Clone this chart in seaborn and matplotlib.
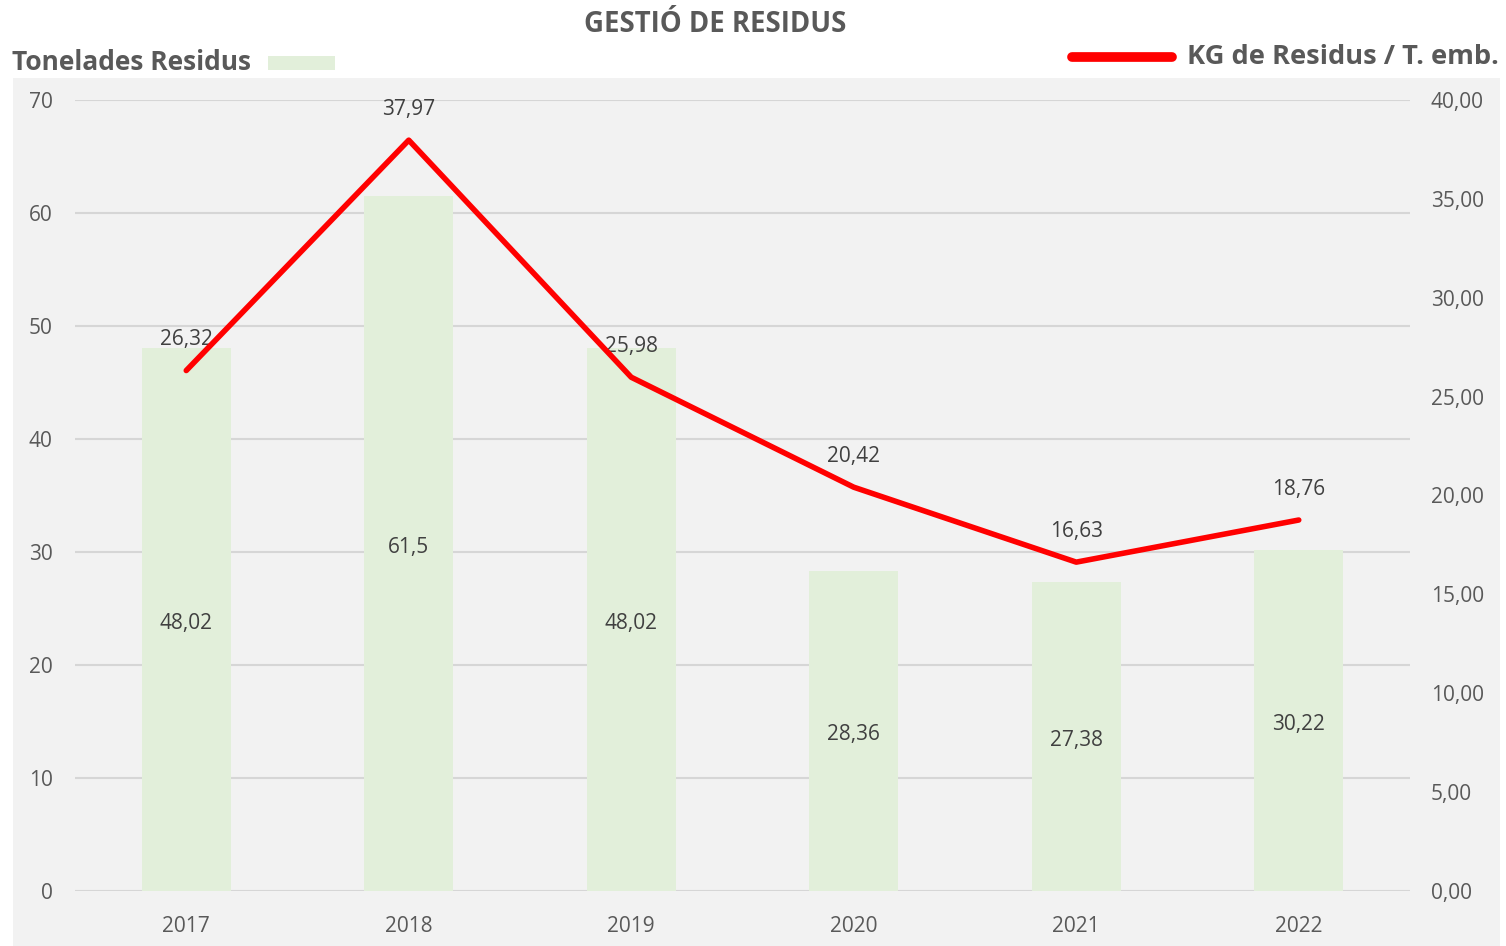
import numpy as np
import pandas as pd
import matplotlib
matplotlib.use("Agg")
import matplotlib.pyplot as plt
import seaborn as sns
from matplotlib.patches import Rectangle
from matplotlib.lines import Line2D

# data
years = ["2017", "2018", "2019", "2020", "2021", "2022"]
tonnes = [48.02, 61.5, 48.02, 28.36, 27.38, 30.22]
kg_per_t = [26.32, 37.97, 25.98, 20.42, 16.63, 18.76]
left_ticks = [0, 10, 20, 30, 40, 50, 60, 70]
right_ticks = [0, 5, 10, 15, 20, 25, 30, 35, 40]

bar_color = "#e2efda"
line_color = "#ff0000"
text_gray = "#595959"

sns.set_theme(style="white")
plt.rcParams["font.family"] = ["Open Sans", "DejaVu Sans"]

df = pd.DataFrame({"year": years, "tonnes": tonnes, "kg": kg_per_t})

fig = plt.figure(figsize=(15.06, 9.46), dpi=100)
fig.patch.set_facecolor("white")

# grey panel behind the plot
fig.add_artist(Rectangle((13 / 1506, 0), (1500 - 13) / 1506, 1 - 78 / 946,
                         transform=fig.transFigure, facecolor="#f2f2f2",
                         edgecolor="none", zorder=0))

ax = fig.add_axes([75 / 1506, 1 - 891 / 946, (1410 - 75) / 1506, (891 - 100) / 946])
ax.set_facecolor("none")
ax.set_zorder(1)

sns.barplot(data=df, x="year", y="tonnes", color=bar_color, width=0.4,
            saturation=1, linewidth=0, edgecolor="none", ax=ax, zorder=2)
ax.set_xlim(-0.5, 5.5)
ax.set_ylim(0, 70)
ax.set_yticks(left_ticks)
ax.set_yticklabels([str(t) for t in left_ticks])
ax.yaxis.grid(True, color="#d6d6d6", linewidth=1.5, zorder=0)
ax.set_axisbelow(True)
ax.set_xlabel("")
ax.set_ylabel("")
for s in ax.spines.values():
    s.set_visible(False)
ax.tick_params(axis="both", length=0, labelsize=15, labelcolor=text_gray)
ax.tick_params(axis="y", pad=16)
ax.tick_params(axis="x", pad=18)

for i, v in enumerate(tonnes):
    ax.annotate(f"{v:g}".replace(".", ","), (i, v / 2), xytext=(0, -3),
                textcoords="offset points", ha="center", va="center",
                fontsize=15, color="#404040", zorder=5)

ax2 = ax.twinx()
sns.lineplot(x=np.arange(len(years)), y=kg_per_t, color=line_color,
             linewidth=4, ax=ax2, zorder=4)
ax2.set_ylim(0, 40)
ax2.set_yticks(right_ticks)
ax2.set_yticklabels([f"{t:.2f}".replace(".", ",") for t in right_ticks])
for s in ax2.spines.values():
    s.set_visible(False)
ax2.tick_params(axis="y", length=0, labelsize=15, labelcolor=text_gray, pad=15)
ax2.set_ylabel("")
ax2.grid(False)

for i, v in enumerate(kg_per_t):
    ax2.annotate(f"{v:.2f}".replace(".", ","), (i, v), xytext=(0, 22),
                 textcoords="offset points", ha="center", va="center",
                 fontsize=15, color="#404040")

# title and legend-like headers
fig.text(715 / 1506, 1 - 25 / 946, "GESTIÓ DE RESIDUS", ha="center", va="center",
         fontsize=19.8, fontweight="bold", color=text_gray)
fig.text(12 / 1506, 1 - 62 / 946, "Tonelades Residus", ha="left", va="center",
         fontsize=19, fontweight="bold", color=text_gray)
fig.add_artist(Rectangle((268 / 1506, 1 - 70 / 946), 67 / 1506, 14 / 946,
                         transform=fig.transFigure, facecolor=bar_color,
                         edgecolor="none"))
fig.add_artist(Line2D([1072 / 1506, 1172 / 1506], [1 - 57 / 946, 1 - 57 / 946],
                      transform=fig.transFigure, color=line_color, linewidth=7,
                      solid_capstyle="round"))
fig.text(1187 / 1506, 1 - 57 / 946, "KG de Residus / T. emb.", ha="left", va="center",
         fontsize=19.6, fontweight="bold", color=text_gray)

fig.savefig("out.png", dpi=100)
